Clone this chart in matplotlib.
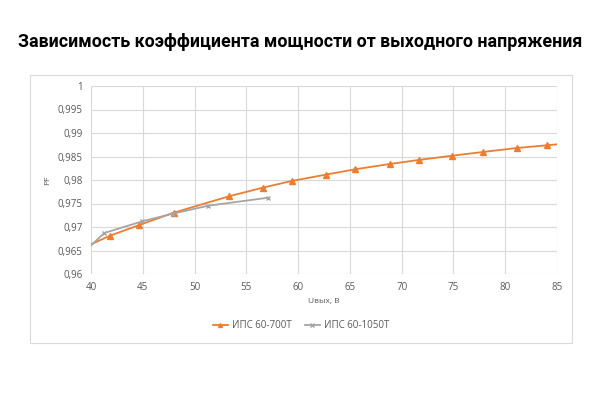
import matplotlib.pyplot as plt
from matplotlib.patches import Rectangle

# data (first/last points lie just outside the axis range)
u_700 = [38.9, 41.83, 44.67, 47.98, 53.32, 56.57, 59.37, 62.65, 65.51, 68.83,
         71.63, 74.88, 77.84, 81.12, 83.99, 87.0]
pf_700 = [0.9652, 0.96815, 0.97043, 0.97304, 0.97653, 0.97836, 0.97979, 0.98113,
          0.98228, 0.98340, 0.98426, 0.98517, 0.98596, 0.98681, 0.98738, 0.98800]
u_1050 = [38.9, 41.28, 44.95, 47.88, 51.32, 57.11]
pf_1050 = [0.9638, 0.96872, 0.97121, 0.97283, 0.97453, 0.97623]

x_ticks = [40, 45, 50, 55, 60, 65, 70, 75, 80, 85]
y_ticks = [0.96, 0.965, 0.97, 0.975, 0.98, 0.985, 0.99, 0.995, 1.0]

orange = "#ED7D31"
gray = "#A5A5A5"
txt = "#595959"

W, H = 600, 400
fig = plt.figure(figsize=(6, 4), dpi=100)

fig.text(0.5, 1 - 42 / H, "Зависимость коэффициента мощности от выходного напряжения",
         ha="center", va="center", fontsize=12.8, fontweight="bold", family="Roboto")

# excel chart border
fig.add_artist(Rectangle((30 / W, 1 - 343 / H), 542 / W, 268 / H, transform=fig.transFigure,
                         fill=False, edgecolor="#D9D9D9", linewidth=0.8))

ax = fig.add_axes([91 / W, 1 - 274 / H, 466 / W, 188 / H])
ax.plot(u_700, pf_700, color=orange, marker="^", markersize=4, linewidth=1.3,
        label="ИПС 60-700Т")
ax.plot(u_1050, pf_1050, color=gray, marker="x", markersize=3.5, markeredgewidth=1,
        linewidth=1.3, label="ИПС 60-1050Т")

ax.set_xlim(40, 85)
ax.set_ylim(0.96, 1.0)
ax.set_xticks(x_ticks)
ax.set_yticks(y_ticks)
ax.set_yticklabels([f"{v:g}".replace(".", ",") for v in y_ticks])
ax.grid(True, color="#D9D9D9", linewidth=0.8)
ax.set_axisbelow(True)
for s in ax.spines.values():
    s.set_visible(False)
ax.tick_params(length=0, labelsize=7, labelcolor=txt, pad=6)
for lab in ax.get_xticklabels() + ax.get_yticklabels():
    lab.set_family("Open Sans")

fig.text(324 / W, 1 - 301 / H, "Uвых, В", ha="center", va="center", fontsize=6,
         color=txt, family="Open Sans")
fig.text(48 / W, 1 - 180 / H, "PF", ha="center", va="center", fontsize=6,
         color=txt, family="Open Sans", rotation=90)

fig.legend(loc="center", bbox_to_anchor=(301 / W, 1 - 326 / H), ncol=2, frameon=False,
           prop={"family": "Open Sans", "size": 7}, labelcolor=txt, markerscale=0.7,
           handlelength=1.6, handletextpad=0.4, columnspacing=1.3)

fig.savefig("out.png", dpi=100)
